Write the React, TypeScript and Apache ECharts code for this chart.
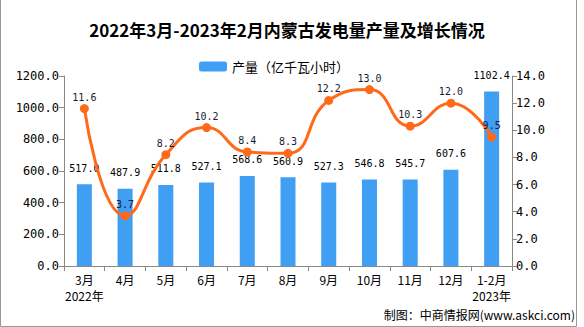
import React, { useEffect, useRef } from "react";
import * as echarts from "echarts";

const categories = ["3月\n2022年", "4月", "5月", "6月", "7月", "8月", "9月", "10月", "11月", "12月", "1-2月\n2023年"];
const output = [517.0, 487.9, 511.8, 527.1, 568.6, 560.9, 527.3, 546.8, 545.7, 607.6, 1102.4];
const growth = [11.6, 3.7, 8.2, 10.2, 8.4, 8.3, 12.2, 13.0, 10.3, 12.0, 9.5];
const titleText = "2022年3月-2023年2月内蒙古发电量产量及增长情况";
const legendName = "产量（亿千瓦小时）";
const sourceText = "制图：中商情报网(www.askci.com)";

const MONO = "'DejaVu Sans Mono', 'Noto Sans CJK SC', monospace";
const CJK = "'Noto Sans CJK SC', sans-serif";

export default function App() {
  const ref = useRef<HTMLDivElement>(null);
  useEffect(() => {
    if (!ref.current) return;
    const chart = echarts.init(ref.current, undefined, { renderer: "svg" });
    chart.setOption({
      animation: false,
      backgroundColor: "#ffffff",
      legend: {
        data: [legendName],
        left: 194,
        top: 55,
        itemWidth: 28,
        itemHeight: 10,
        itemGap: 10,
        textStyle: { fontSize: 13, color: "#000", fontFamily: CJK },
      },
      grid: { left: 64, right: 72, top: 76, bottom: 61, containLabel: false },
      xAxis: {
        type: "category",
        data: categories,
        axisLine: { lineStyle: { color: "#888", width: 1 } },
        axisTick: { show: true, length: 5, lineStyle: { color: "#888" } },
        axisLabel: {
          interval: 0,
          fontSize: 12,
          lineHeight: 16,
          color: "#000",
          fontFamily: CJK,
          margin: 5,
        },
      },
      yAxis: [
        {
          type: "value",
          min: 0,
          max: 1200,
          interval: 200,
          splitLine: { show: false },
          axisLine: { show: true, lineStyle: { color: "#888" } },
          axisTick: { show: true, length: 5, lineStyle: { color: "#888" } },
          axisLabel: {
            fontSize: 12,
            color: "#000",
            fontFamily: MONO,
            margin: 5,
            formatter: (v: number) => v.toFixed(1),
          },
        },
        {
          type: "value",
          min: 0,
          max: 14,
          interval: 2,
          splitLine: { show: false },
          axisLine: { show: true, lineStyle: { color: "#888" } },
          axisTick: { show: true, length: 5, lineStyle: { color: "#888" } },
          axisLabel: {
            fontSize: 12,
            color: "#000",
            fontFamily: MONO,
            margin: 4,
            formatter: (v: number) => v.toFixed(1),
          },
        },
      ],
      series: [
        {
          name: legendName,
          type: "bar",
          data: output,
          barWidth: 15,
          itemStyle: { color: "#409ef3" },
          label: {
            show: true,
            position: "top",
            distance: 11,
            fontSize: 10,
            color: "#000",
            fontFamily: MONO,
            formatter: (p: any) => Number(p.value).toFixed(1),
          },
        },
        {
          name: "增长",
          type: "line",
          yAxisIndex: 1,
          data: growth,
          smooth: true,
          symbol: "circle",
          symbolSize: 9,
          z: 5,
          lineStyle: { color: "#ff6a1a", width: 3 },
          itemStyle: { color: "#ff6a1a" },
          label: {
            show: true,
            position: "top",
            distance: 2,
            fontSize: 10,
            color: "#1a1a33",
            fontFamily: MONO,
            formatter: (p: any) => Number(p.value).toFixed(1),
          },
        },
      ],
      graphic: [
        {
          type: "text",
          x: 287,
          y: 29,
          style: {
            text: titleText,
            fontSize: 17,
            fontWeight: "bold",
            fontFamily: CJK,
            fill: "#000",
            align: "center",
            verticalAlign: "middle",
          },
        },
        {
          type: "text",
          x: 575,
          y: 314,
          style: {
            text: sourceText,
            fontSize: 12,
            fontFamily: CJK,
            fill: "#000",
            align: "right",
            verticalAlign: "middle",
          },
        },
        {
          type: "polyline",
          shape: { points: [[0.5, 0], [0.5, 326.5], [576.5, 326.5], [576.5, 0]] },
          style: { stroke: "#999", lineWidth: 1, fill: "none" },
          silent: true,
        },
      ],
    });
    return () => chart.dispose();
  }, []);
  return (
    <div
      ref={ref}
      style={{ position: "fixed", left: 0, top: 0, width: 584, height: 327 }}
    />
  );
}
